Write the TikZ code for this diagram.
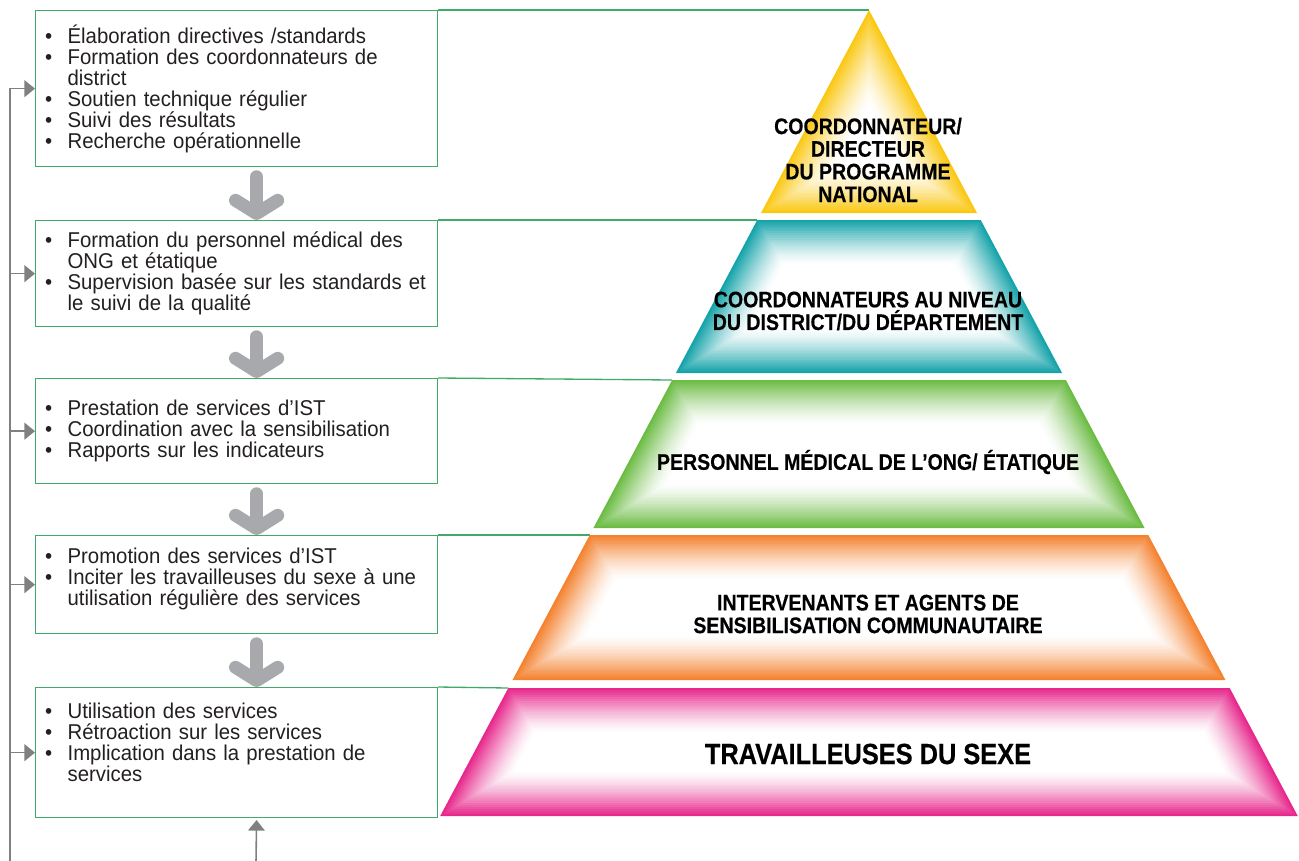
\documentclass[tikz,border=0pt]{standalone}
\usepackage{fontspec}
\setmainfont[FakeStretch=0.95]{Liberation Sans}
\newfontfamily\pyrfont[FakeStretch=0.87, FakeBold=0.35]{Liberation Sans}
\usetikzlibrary{arrows.meta, positioning}

\definecolor{boxgreen}{RGB}{62,172,104}
\definecolor{arrowgray}{RGB}{167,169,172}
\definecolor{linegray}{RGB}{128,128,131}
\definecolor{layyellow}{RGB}{250,200,20}
\definecolor{layteal}{RGB}{22,164,170}
\definecolor{laygreen}{RGB}{108,188,68}
\definecolor{layorange}{RGB}{244,130,48}
\definecolor{laypink}{RGB}{231,40,140}
\definecolor{txt}{RGB}{35,31,32}

\newcommand{\blt}{\makebox[12.8pt][l]{\textbullet}}
\newcommand{\cnt}{\hspace*{12.8pt}}
\newcommand{\lift}[1]{\rule[-#1]{0pt}{#1}}

% one slice of the pyramid: top, bottom, colour
\newcommand{\pyrlayer}[3]{%
  \foreach \i in {0,...,20}{%
    \pgfmathsetmacro\dd{2.2*\i}%
    \pgfmathsetmacro\yt{max(#1+\dd,10+2.13*\dd)}%
    \pgfmathsetmacro\yb{#2-\dd}%
    \pgfmathsetmacro\wt{max(0,0.532*(\yt-10)-1.133*\dd)}%
    \pgfmathsetmacro\wb{max(0,0.532*(\yb-10)-1.133*\dd)}%
    \pgfmathsetmacro\pc{100*max(0.0001,1-\i/20)^1.4}%
    \fill[#3!\pc!white] ({869-\wt},\yt) -- ({869+\wt},\yt) -- ({869+\wb},\yb) -- ({869-\wb},\yb) -- cycle;
  }
}

\tikzset{
  infobox/.style={draw=boxgreen, line width=0.75pt, anchor=north west,
    minimum width=8.04cm, text width=218pt, inner xsep=5pt, inner ysep=4pt,
    align=left, text=txt, font=\fontsize{12.2}{12}\selectfont},
  boxline/.style={draw=boxgreen, line width=0.75pt},
  bigarrow/.style={draw=arrowgray, line width=7.4pt, line cap=round,
    shorten <=5.4pt, -{Straight Barb[length=7.5pt, width=24pt, round]}},
  fbline/.style={draw=linegray, line width=0.9pt,
    -{Triangle[length=6pt, width=9.5pt]}},
  laylabel/.style={align=center, text=black, inner sep=0pt,
    font=\pyrfont\bfseries\fontsize{12.8}{12.9}\selectfont}
}

\begin{document}
\begin{tikzpicture}[x=0.02cm, y=-0.02cm]
  \useasboundingbox (0,0) rectangle (1299,860);

  \node[infobox, minimum height=3.12cm] (box-1) at (35,10) {%
    \blt Élaboration directives /standards\\
    \blt Formation des coordonnateurs de\\
    \cnt district\\
    \blt Soutien technique régulier\\
    \blt Suivi des résultats\\
    \blt Recherche opérationnelle};
  \node[infobox, minimum height=2.12cm] (box-2) at (35,220) {%
    \blt Formation du personnel médical des\\
    \cnt ONG et étatique\\
    \blt Supervision basée sur les standards et\\
    \cnt le suivi de la qualité};
  \node[infobox, minimum height=2.10cm] (box-3) at (35,378) {%
    \blt Prestation de services d’IST\\
    \blt Coordination avec la sensibilisation\\
    \blt Rapports sur les indicateurs};
  \node[infobox, minimum height=1.96cm] (box-4) at (35,535) {%
    \blt Promotion des services d’IST\\
    \blt Inciter les travailleuses du sexe à une\\
    \cnt utilisation régulière des services\lift{9pt}};
  \node[infobox, minimum height=2.60cm] (box-5) at (35,687) {%
    \blt Utilisation des services\\
    \blt Rétroaction sur les services\\
    \blt Implication dans la prestation de\\
    \cnt services\lift{12pt}};

  % top-left corners of the pyramid slices
  \foreach \n/\t in {1/10, 2/220, 3/380, 4/535, 5/688}
    \coordinate (lay-\n) at ({869-0.532*(\t-10)},\t);
  \foreach \b in {1,...,5}
    \draw[boxline] (box-\b.north east) -- (lay-\b);

  % feedback line on the left and input from below
  \coordinate (fb) at (10,862);
  \foreach \b in {1,...,5}
    \draw[fbline] (fb) |- (box-\b.west);
  \coordinate (in) at (256,862);
  \draw[fbline, shorten >=1pt] (in) -- ([xshift=0.4cm]box-5.south);

  % flow between the boxes
  \foreach \a/\b in {1/2, 2/3, 3/4, 4/5}
    \draw[bigarrow] ([xshift=0.4cm]box-\a.south) -- ([xshift=0.4cm]box-\b.north);

  \pyrlayer{10}{213}{layyellow}
  \pyrlayer{220}{373}{layteal}
  \pyrlayer{380}{528}{laygreen}
  \pyrlayer{535}{680}{layorange}
  \pyrlayer{688}{816}{laypink}

  \node[laylabel] (lab-1) at (868,160) {COORDONNATEUR/\\DIRECTEUR\\DU PROGRAMME\\NATIONAL};
  \node[laylabel] (lab-2) at (868,311) {COORDONNATEURS AU NIVEAU\\DU DISTRICT/DU DÉPARTEMENT};
  \node[laylabel] (lab-3) at (868,462) {PERSONNEL MÉDICAL DE L’ONG/ ÉTATIQUE};
  \node[laylabel] (lab-4) at (868,614) {INTERVENANTS ET AGENTS DE\\SENSIBILISATION COMMUNAUTAIRE};
  \node[laylabel, font=\pyrfont\bfseries\fontsize{16.6}{17}\selectfont] (lab-5) at (868,754) {TRAVAILLEUSES DU SEXE};
\end{tikzpicture}
\end{document}
